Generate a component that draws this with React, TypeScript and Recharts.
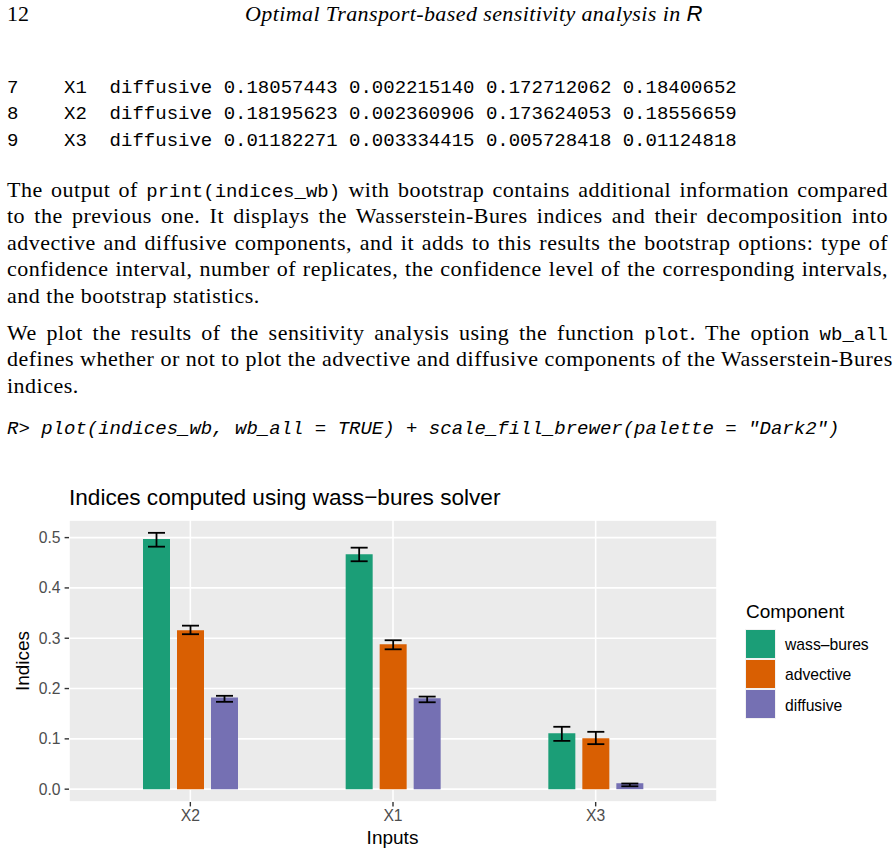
import { BarChart, Bar, XAxis, YAxis, CartesianGrid, ErrorBar } from 'recharts';

// values (diffusive ones match the printed table)
const inputs = ['X2', 'X1', 'X3'];
const wassBures = [0.497, 0.467, 0.111];
const wassBuresLow = [0.482, 0.453, 0.096];
const wassBuresHigh = [0.5095, 0.48, 0.124];
const advective = [0.316, 0.288, 0.101];
const advectiveLow = [0.308, 0.278, 0.0895];
const advectiveHigh = [0.325, 0.296, 0.114];
const diffusive = [0.18195623, 0.18057443, 0.01182271];
const diffusiveLow = [0.173624053, 0.172712062, 0.005728418];
const diffusiveHigh = [0.18556659, 0.18400652, 0.01124818];

const yTicks = [0, 0.1, 0.2, 0.3, 0.4, 0.5];
const yMinorTicks = [0.05, 0.15, 0.25, 0.35, 0.45];
const yDomain = [-0.0255, 0.535];

const components = ['wass\u2013bures', 'advective', 'diffusive'];
const colors = ['#1B9E77', '#D95F02', '#7570B3'];

const tableRows = [
  '7    X1  diffusive 0.18057443 0.002215140 0.172712062 0.18400652',
  '8    X2  diffusive 0.18195623 0.002360906 0.173624053 0.18556659',
  '9    X3  diffusive 0.01182271 0.003334415 0.005728418 0.01124818',
];

const data = inputs.map((input, i) => ({
  input,
  wb: wassBures[i],
  wbErr: [wassBures[i] - wassBuresLow[i], wassBuresHigh[i] - wassBures[i]],
  adv: advective[i],
  advErr: [advective[i] - advectiveLow[i], advectiveHigh[i] - advective[i]],
  dif: diffusive[i],
  difErr: [diffusive[i] - diffusiveLow[i], diffusiveHigh[i] - diffusive[i]],
}));

const serif = '"Liberation Serif", "Times New Roman", serif';
const mono = '"Liberation Mono", "DejaVu Sans Mono", monospace';
const sans = '"Liberation Sans", Arial, Helvetica, sans-serif';

const code = (s: string) => <span style={{ fontFamily: mono, fontSize: 19, letterSpacing: 0 }}>{s}</span>;

function Line({ y, justify = true, children }: { y: number; justify?: boolean; children: any }) {
  return (
    <div
      style={{
        position: 'absolute',
        left: 7,
        top: y - 18.4,
        width: 881,
        fontFamily: serif,
        fontSize: 22,
        lineHeight: '22px',
        letterSpacing: 0.5,
        whiteSpace: 'nowrap',
        textAlign: justify ? 'justify' : 'left',
        textAlignLast: justify ? 'justify' : 'left',
        color: '#000',
      }}
    >
      {children}
    </div>
  );
}

function MonoLine({ y, italic = false, children }: { y: number; italic?: boolean; children: any }) {
  return (
    <div
      style={{
        position: 'absolute',
        left: 7,
        top: y - 14.6,
        fontFamily: mono,
        fontSize: 19,
        lineHeight: '19px',
        fontStyle: italic ? 'italic' : 'normal',
        whiteSpace: 'pre',
        color: '#000',
      }}
    >
      {children}
    </div>
  );
}

export default function App() {
  const yFmt = (v: number) => v.toFixed(1);
  return (
    <div style={{ position: 'absolute', left: 0, top: 0, width: 895, height: 854, background: '#fff', overflow: 'hidden' }}>
      {/* running header */}
      <div style={{ position: 'absolute', left: 7, top: 21.7 - 18.4, fontFamily: serif, fontSize: 22, lineHeight: '22px' }}>12</div>
      <div style={{ position: 'absolute', left: 245, top: 21.7 - 18.4, fontFamily: serif, fontSize: 22, lineHeight: '22px', fontStyle: 'italic', letterSpacing: 0.4 }}>
        Optimal Transport-based sensitivity analysis in <span style={{ fontFamily: sans }}>R</span>
      </div>

      {tableRows.map((row, i) => (
        <MonoLine key={row} y={93.3 + i * 26.7}>{row}</MonoLine>
      ))}

      <Line y={197}>The output of {code('print(indices_wb)')} with bootstrap contains additional information compared</Line>
      <Line y={223.5}>to the previous one. It displays the Wasserstein-Bures indices and their decomposition into</Line>
      <Line y={250}>advective and diffusive components, and it adds to this results the bootstrap options: type of</Line>
      <Line y={276.5}>confidence interval, number of replicates, the confidence level of the corresponding intervals,</Line>
      <Line y={303} justify={false}>and the bootstrap statistics.</Line>

      <Line y={340}>We plot the results of the sensitivity analysis using the function {code('plot')}. The option {code('wb_all')}</Line>
      <Line y={366.5}>defines whether or not to plot the advective and diffusive components of the Wasserstein-Bures</Line>
      <Line y={393} justify={false}>indices.</Line>

      <MonoLine y={435} italic>{'R> plot(indices_wb, wb_all = TRUE) + scale_fill_brewer(palette = "Dark2")'}</MonoLine>

      {/* chart title */}
      <div style={{ position: 'absolute', left: 69, top: 506 - 19.1, fontFamily: sans, fontSize: 22.6, lineHeight: '22.6px', color: '#000', whiteSpace: 'nowrap' }}>
        Indices computed using wass{'\u2212'}bures solver
      </div>

      <div style={{ position: 'absolute', left: 0, top: 470 }}>
        <BarChart
          width={895}
          height={384}
          data={data}
          margin={{ top: 50, right: 178, bottom: 22, left: 0 }}
          barSize={27}
          barGap={7}
        >
          <CartesianGrid fill="#EBEBEB" vertical={false} stroke="#FFFFFF" strokeWidth={0.8} yAxisId="minor" />
          <CartesianGrid stroke="#FFFFFF" strokeWidth={1.6} yAxisId="main" />
          <XAxis
            dataKey="input"
            padding={{ left: 20, right: 20 }}
            axisLine={false}
            tickLine={{ stroke: '#333333', strokeWidth: 1.4 }}
            tickSize={4.4}
            tickMargin={3}
            height={30}
            tick={{ fill: '#4D4D4D', fontSize: 15.7, fontFamily: sans }}
          />
          <YAxis
            yAxisId="main"
            type="number"
            domain={yDomain}
            ticks={yTicks}
            tickFormatter={yFmt}
            width={69}
            axisLine={false}
            tickLine={{ stroke: '#333333', strokeWidth: 1.4 }}
            tickSize={4.4}
            tickMargin={4}
            tick={{ fill: '#4D4D4D', fontSize: 15.7, fontFamily: sans }}
          />
          <YAxis yAxisId="minor" type="number" domain={yDomain} ticks={yMinorTicks} hide />
          <Bar yAxisId="main" dataKey="wb" fill={colors[0]} isAnimationActive={false}>
            <ErrorBar dataKey="wbErr" width={8.5} stroke="#000" strokeWidth={1.8} isAnimationActive={false} />
          </Bar>
          <Bar yAxisId="main" dataKey="adv" fill={colors[1]} isAnimationActive={false}>
            <ErrorBar dataKey="advErr" width={8.5} stroke="#000" strokeWidth={1.8} isAnimationActive={false} />
          </Bar>
          <Bar yAxisId="main" dataKey="dif" fill={colors[2]} isAnimationActive={false}>
            <ErrorBar dataKey="difErr" width={8.5} stroke="#000" strokeWidth={1.8} isAnimationActive={false} />
          </Bar>
        </BarChart>
      </div>

      {/* axis titles */}
      <div style={{ position: 'absolute', left: 392.5, top: 844 - 16, transform: 'translateX(-50%)', fontFamily: sans, fontSize: 19, lineHeight: '19px', whiteSpace: 'nowrap' }}>
        Inputs
      </div>
      <div style={{ position: 'absolute', left: 22, top: 661, transform: 'translate(-50%, -50%) rotate(-90deg)', fontFamily: sans, fontSize: 19, lineHeight: '19px', whiteSpace: 'nowrap' }}>
        Indices
      </div>

      {/* legend */}
      <div style={{ position: 'absolute', left: 746, top: 618 - 16, fontFamily: sans, fontSize: 19, lineHeight: '19px', whiteSpace: 'nowrap' }}>
        Component
      </div>
      <div style={{ position: 'absolute', left: 745, top: 629, width: 29, background: '#F2F2F2', padding: 1 }}>
        {components.map((c, i) => (
          <div key={c} style={{ width: 29, height: 28, background: colors[i], marginBottom: i < components.length - 1 ? 2 : 0 }} />
        ))}
      </div>
      {components.map((c, i) => (
        <div
          key={c}
          style={{ position: 'absolute', left: 785, top: 650 - 13.3 + i * 30.5, fontFamily: sans, fontSize: 15.7, lineHeight: '15.7px', whiteSpace: 'nowrap', color: '#000' }}
        >
          {c}
        </div>
      ))}
    </div>
  );
}
